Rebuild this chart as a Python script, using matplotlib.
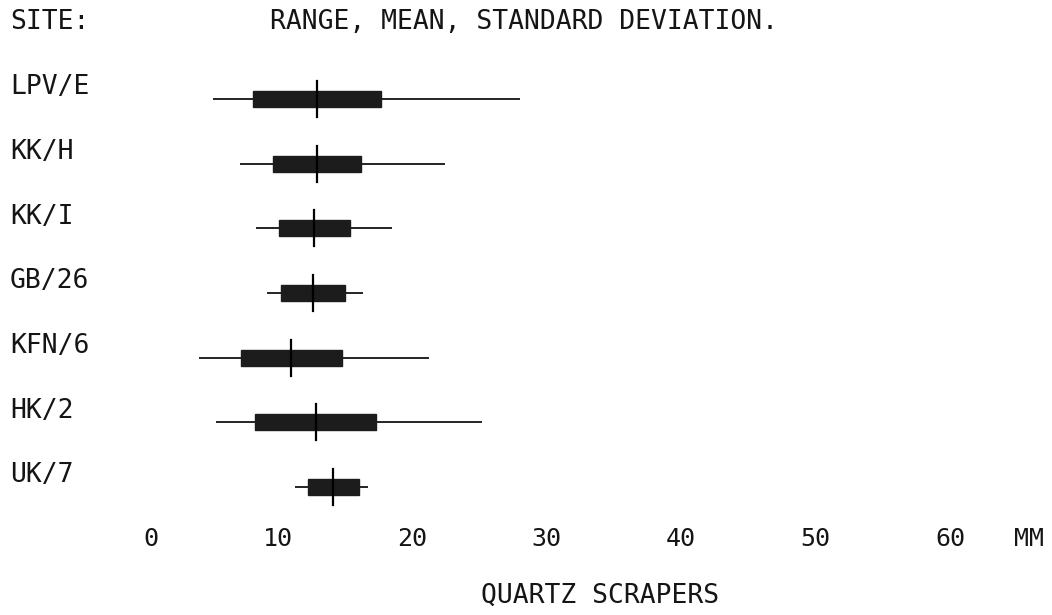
import matplotlib
matplotlib.use("Agg")
import matplotlib.pyplot as plt
import matplotlib.transforms as mtransforms

# ---- data ----
sites = ["LPV/E", "KK/H", "KK/I", "GB/26", "KFN/6", "HK/2", "UK/7"]
means = [12.9, 12.9, 12.7, 12.6, 11.0, 12.8, 14.1]
sds = [4.75, 3.25, 2.65, 2.35, 3.75, 4.5, 1.9]
mins = [5.2, 7.2, 8.4, 9.2, 4.1, 5.4, 11.3]
maxs = [28.0, 22.4, 18.5, 16.3, 21.2, 25.2, 16.7]
xticks = [0, 10, 20, 30, 40, 50, 60]

FONT = "DejaVu Sans Mono"
W, H = 1052, 615
fig = plt.figure(figsize=(W / 100, H / 100), dpi=100)
fig.patch.set_facecolor("white")

# axes placed so that x=0 -> 143.6px, x=60 -> 950px; rows at 99..487px
left, right = 143.6, 950.0
top, bottom = 66.7, 519.3
ax = fig.add_axes([left / W, 1 - bottom / H, (right - left) / W, (bottom - top) / H])
ax.set_xlim(0, 60)
ax.set_ylim(len(sites) - 0.5, -0.5)
ax.axis("off")

box_h = 0.25
tick_h = 0.56
for i, (m, s, lo, hi) in enumerate(zip(means, sds, mins, maxs)):
    ax.plot([lo, hi], [i, i], color="black", lw=1.2, solid_capstyle="butt", zorder=1)
    ax.barh(i, 2 * s, left=m - s, height=box_h, color="#1c1c1c", edgecolor="#1c1c1c", zorder=2)
    ax.plot([m, m], [i - tick_h / 2, i + tick_h / 2], color="black", lw=1.6, zorder=3)

# site labels (slightly above each row)
trans_lab = mtransforms.blended_transform_factory(fig.transFigure, ax.transData)
for i, s in enumerate(sites):
    fig.text(10 / W, i - 0.18, s, transform=trans_lab, ha="left", va="center",
             fontsize=19, family=FONT, color="#151515")

# header
fig.text(10 / W, 1 - 22 / H, "SITE:", ha="left", va="center", fontsize=19, family=FONT, color="#151515")
fig.text(524 / W, 1 - 22 / H, "RANGE, MEAN, STANDARD DEVIATION.", ha="center", va="center",
         fontsize=19, family=FONT, color="#151515")

# x tick labels (right-aligned two-character fields)
trans_tick = mtransforms.blended_transform_factory(ax.transData, fig.transFigure)
for v in xticks:
    ax.text(v, 1 - 539 / H, f"{v:2d}", transform=trans_tick, ha="center", va="center",
            fontsize=18, family=FONT, color="#151515")
fig.text(1029 / W, 1 - 539 / H, "MM", ha="center", va="center", fontsize=18, family=FONT, color="#151515")

fig.text(600 / W, 1 - 596 / H, "QUARTZ SCRAPERS", ha="center", va="center",
         fontsize=19, family=FONT, color="#151515")

fig.savefig("out.png", dpi=100, facecolor="white")
